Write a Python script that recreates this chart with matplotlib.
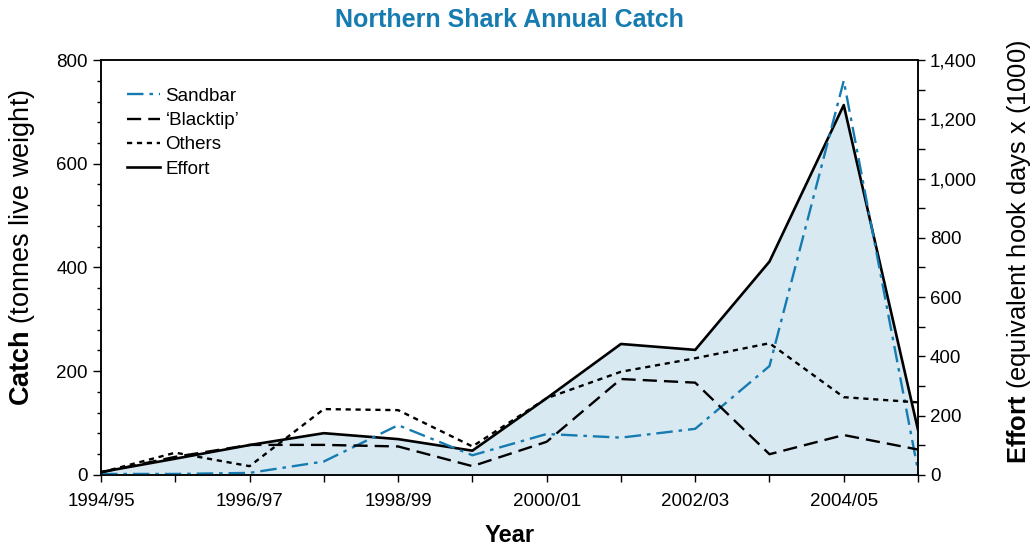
import matplotlib
matplotlib.use("Agg")
import matplotlib.pyplot as plt
from matplotlib.lines import Line2D

plt.rcParams["font.family"] = ["Liberation Sans", "DejaVu Sans"]
plt.rcParams["mathtext.fontset"] = "custom"
plt.rcParams["mathtext.rm"] = "Liberation Sans"
plt.rcParams["mathtext.bf"] = "Liberation Sans:bold"

years = ["1994/95", "1995/96", "1996/97", "1997/98", "1998/99", "1999/00",
         "2000/01", "2001/02", "2002/03", "2003/04", "2004/05", "2005/06"]
sandbar = [2, 2, 4, 26, 96, 38, 79, 72, 89, 210, 760, 8]
blacktip = [5, 35, 58, 58, 55, 17, 64, 185, 178, 40, 77, 49]
others = [5, 43, 17, 127, 125, 55, 148, 199, 225, 254, 150, 140]
effort = [10, 55, 101, 141, 121, 82, 259, 442, 422, 720, 1248, 152]

blue = "#157bb0"
fill_col = "#d9e9f2"

x = list(range(len(years)))

fig = plt.figure(figsize=(10.33, 5.5), dpi=100)
ax = fig.add_axes([0.0978, 0.1364, 0.7909, 0.7545])
ax2 = ax.twinx()

# effort on right axis, drawn beneath the catch lines
ax2.fill_between(x, effort, 0, color=fill_col, lw=0)
ax2.plot(x, effort, color="black", lw=1.9)
ax.set_zorder(ax2.get_zorder() + 1)
ax.patch.set_visible(False)

ax.plot(x, sandbar, color=blue, lw=1.7, dashes=(7, 2.5, 1.5, 2.5))
ax.plot(x, blacktip, color="black", lw=1.7, dashes=(6, 3))
ax.plot(x, others, color="black", lw=1.7, dashes=(2.2, 2))

ax.set_xlim(0, 11)
ax.set_ylim(0, 800)
ax2.set_ylim(0, 1400)

# x ticks: every year below, odd years inward on top
ax.set_xticks(x)
ax.set_xticklabels([y if i % 2 == 0 else "" for i, y in enumerate(years)])
ax.set_xticks([i for i in x if i % 2 == 1], minor=True)
ax.tick_params(axis="x", which="major", direction="out", length=5, width=1,
               labelsize=13.5, pad=8, top=False)
ax.tick_params(axis="x", which="minor", direction="in", length=5, width=1,
               bottom=False, top=True)

# left axis
ax.set_yticks(range(0, 801, 200))
ax.set_yticks(range(0, 801, 40), minor=True)
ax.tick_params(axis="y", which="major", direction="out", length=6, width=1,
               labelsize=13.5)
ax.tick_params(axis="y", which="minor", direction="out", length=3, width=1)

# right axis
ax2.set_yticks(range(0, 1401, 100))
ax2.set_yticklabels([f"{v:,}" if v % 200 == 0 else "" for v in range(0, 1401, 100)])
ax2.set_yticks(range(100, 1400, 200), minor=True)
ax2.tick_params(axis="y", which="major", direction="out", length=5, width=1,
                labelsize=13.5, left=False, right=True)
ax2.tick_params(axis="y", which="minor", direction="in", length=5, width=1,
                left=True, right=False)

for a in (ax, ax2):
    for s in a.spines.values():
        s.set_linewidth(1.1)

ax.set_xlabel("Year", fontsize=17, fontweight="bold")
ax.xaxis.set_label_coords(0.5, -0.118)
ax.set_ylabel(r"$\bf{Catch}$ (tonnes live weight)", fontsize=19.5)
ax.yaxis.set_label_coords(-0.078, 0.549)
ax2.set_ylabel(r"$\bf{Effort}$ (equivalent hook days x (1000)", fontsize=18.4)
ax2.yaxis.set_label_coords(1.106, 0.537)
fig.text(0.493, 0.964, "Northern Shark Annual Catch", fontsize=18,
         fontweight="bold", color=blue, ha="center", va="center")

handles = [
    Line2D([], [], color=blue, lw=1.7, dashes=(7, 2.5, 1.5, 2.5)),
    Line2D([], [], color="black", lw=1.7, dashes=(6, 3)),
    Line2D([], [], color="black", lw=1.7, dashes=(2.2, 2)),
    Line2D([], [], color="black", lw=1.9),
]
ax.legend(handles, ["Sandbar", "\u2018Blacktip\u2019", "Others", "Effort"],
          loc="upper left", frameon=False, fontsize=13.5, handlelength=1.75,
          handletextpad=0.3, labelspacing=0.38, borderaxespad=0,
          bbox_to_anchor=(0.0226, 0.951))

fig.savefig("out.png", dpi=100)
